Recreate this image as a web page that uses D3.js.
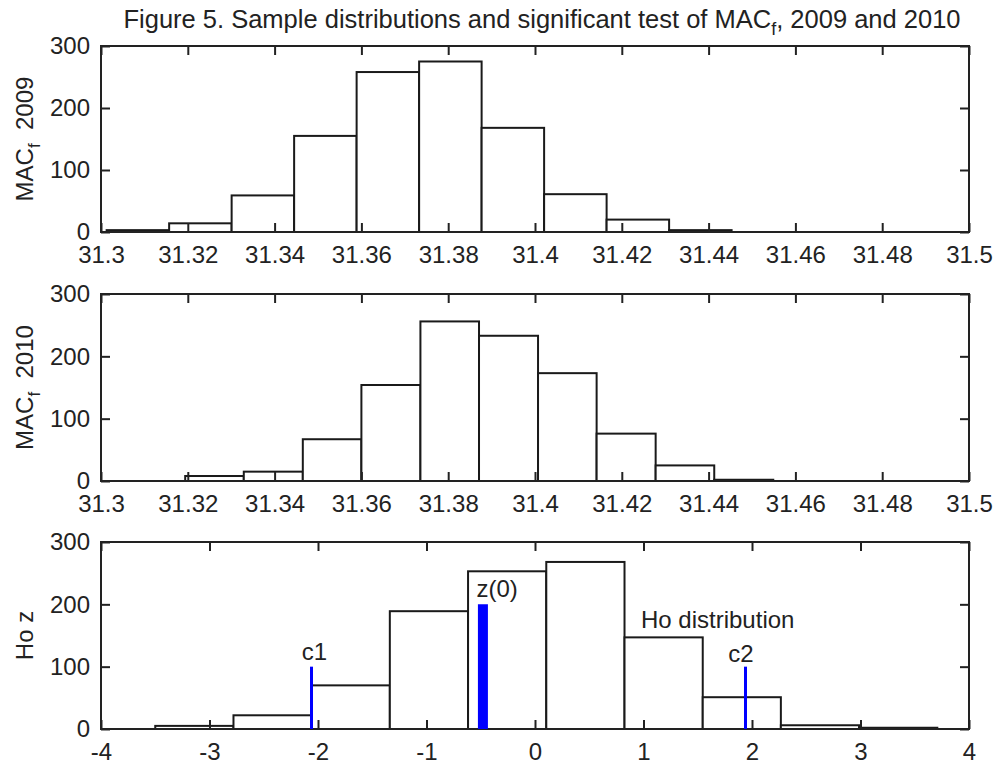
<!DOCTYPE html>
<html>
<head>
<meta charset="utf-8">
<script src="https://cdn.jsdelivr.net/npm/d3@7"></script>
<style>
  body { margin: 0; background: #fff; }
  text { font-family: "Liberation Sans", Arial, sans-serif; fill: #222; white-space: pre; }
</style>
</head>
<body>
<div id="chart"></div>
<script>
// histogram bin edges and counts
const edges2009 = [31.3013, 31.3157, 31.3301, 31.3445, 31.3589, 31.3733, 31.3877, 31.4021, 31.4165, 31.4309, 31.4453];
const counts2009 = [3, 14, 59, 155, 258, 275, 168, 61, 20, 3];

const edges2010 = [31.3194, 31.3329, 31.3465, 31.3600, 31.3736, 31.3871, 31.4007, 31.4142, 31.4278, 31.4413, 31.4549];
const counts2010 = [8, 15, 67, 154, 256, 233, 173, 76, 25, 2];

const edgesZ = [-3.5, -2.779, -2.058, -1.338, -0.617, 0.104, 0.825, 1.546, 2.266, 2.987, 3.708];
const countsZ = [5, 22, 70, 189, 253, 268, 147, 51, 6, 2];

// critical values and observed statistic
const c1 = -2.06, c2 = 1.94, z0 = -0.48;
const critHeight = 100, z0Height = 200;

const macTicks = [31.3, 31.32, 31.34, 31.36, 31.38, 31.4, 31.42, 31.44, 31.46, 31.48, 31.5];
const zTicks = [-4, -3, -2, -1, 0, 1, 2, 3, 4];
const yTicks = [0, 100, 200, 300];

const width = 999, height = 767;
const left = 101, right = 969;

const svg = d3.select("#chart").append("svg")
	.attr("width", width)
	.attr("height", height);

svg.append("text")
	.attr("x", 542)
	.attr("y", 28)
	.attr("text-anchor", "middle")
	.style("font-size", "25.5px")
	.call(t => {
		t.append("tspan").text("Figure 5. Sample distributions and significant test of MAC");
		t.append("tspan").attr("dy", 7).style("font-size", "18px").text("f");
		t.append("tspan").attr("dy", -7).text(", 2009 and 2010");
	});

function panel(top, bottom, xDomain, ticks, edges, counts, yLabel, yLabelSuffix) {
	const x = d3.scaleLinear().domain(xDomain).range([left, right]);
	const y = d3.scaleLinear().domain([0, 300]).range([bottom, top]);
	const g = svg.append("g");

	const bins = counts.map((c, i) => ({ x0: edges[i], x1: edges[i + 1], n: c }));
	g.selectAll("rect.bar")
		.data(bins)
		.enter().append("rect")
		.attr("class", "bar")
		.attr("x", d => x(d.x0))
		.attr("y", d => y(d.n))
		.attr("width", d => x(d.x1) - x(d.x0))
		.attr("height", d => y(0) - y(d.n))
		.style("fill", "#fff")
		.style("stroke", "#1a1a1a")
		.style("stroke-width", 2);

	const fmt = d => String(+d.toFixed(2));

	g.append("g")
		.attr("transform", "translate(0," + bottom + ")")
		.call(d3.axisBottom(x).tickValues(ticks).tickFormat(fmt).tickSizeInner(-9).tickSizeOuter(0).tickPadding(14));
	g.append("g")
		.attr("transform", "translate(0," + top + ")")
		.call(d3.axisTop(x).tickValues(ticks).tickFormat("").tickSizeInner(-9).tickSizeOuter(0));
	g.append("g")
		.attr("transform", "translate(" + left + ",0)")
		.call(d3.axisLeft(y).tickValues(yTicks).tickSizeInner(-9).tickSizeOuter(0).tickPadding(11));
	g.append("g")
		.attr("transform", "translate(" + right + ",0)")
		.call(d3.axisRight(y).tickValues(yTicks).tickFormat("").tickSizeInner(-9).tickSizeOuter(0));

	g.selectAll(".domain").remove();
	g.selectAll(".tick line").style("stroke", "#222").style("stroke-width", 2);
	g.selectAll(".tick text").style("font-size", "24px").style("font-family", "'Liberation Sans', Arial, sans-serif").style("fill", "#222");

	g.append("rect")
		.attr("x", left)
		.attr("y", top)
		.attr("width", right - left)
		.attr("height", bottom - top)
		.style("fill", "none")
		.style("stroke", "#222")
		.style("stroke-width", 2);

	const lab = g.append("text")
		.attr("transform", "translate(33," + (top + bottom) / 2 + ") rotate(-90)")
		.attr("text-anchor", "middle")
		.style("font-size", "24px");
	lab.append("tspan").text(yLabel);
	if (yLabelSuffix !== null) {
		lab.append("tspan").attr("dy", 7).style("font-size", "17px").text("f");
		lab.append("tspan").attr("dy", -7).text("  " + yLabelSuffix);
	}

	return { g, x, y };
}

panel(46, 232, [31.3, 31.5], macTicks, edges2009, counts2009, "MAC", "2009");
panel(294, 481, [31.3, 31.5], macTicks, edges2010, counts2010, "MAC", "2010");
const p3 = panel(542, 729, [-4, 4], zTicks, edgesZ, countsZ, "Ho z", null);

const marks = [
	{ v: c1, h: critHeight, w: 3 },
	{ v: c2, h: critHeight, w: 3 },
	{ v: z0, h: z0Height, w: 10 }
];
p3.g.selectAll("line.mark")
	.data(marks)
	.enter().append("line")
	.attr("class", "mark")
	.attr("x1", d => p3.x(d.v))
	.attr("x2", d => p3.x(d.v))
	.attr("y1", p3.y(0))
	.attr("y2", d => p3.y(d.h))
	.style("stroke", "#0000ff")
	.style("stroke-width", d => d.w);

const notes = [
	{ x: -2.15, y: 111, t: "c1" },
	{ x: 1.78, y: 108, t: "c2" },
	{ x: -0.54, y: 211, t: "z(0)" },
	{ x: 0.977, y: 162, t: "Ho distribution" }
];
p3.g.selectAll("text.note")
	.data(notes)
	.enter().append("text")
	.attr("class", "note")
	.attr("x", d => p3.x(d.x))
	.attr("y", d => p3.y(d.y))
	.style("font-size", "24px")
	.text(d => d.t);
</script>
</body>
</html>
